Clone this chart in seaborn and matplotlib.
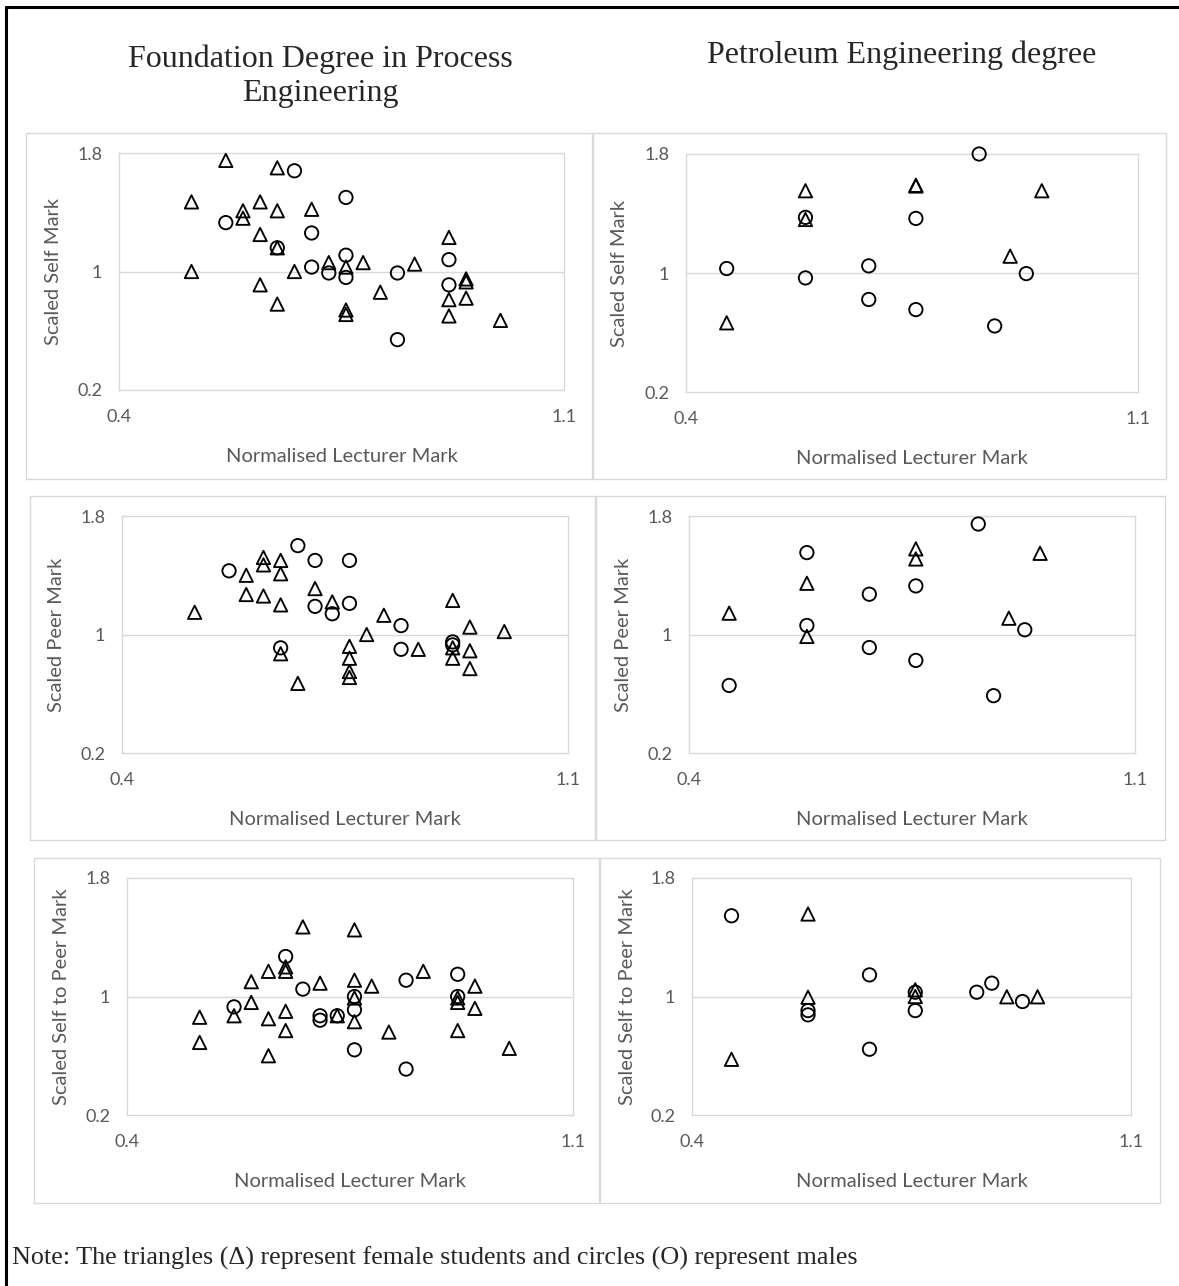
import numpy as np
import pandas as pd
import seaborn as sns
import matplotlib.pyplot as plt
from matplotlib.patches import Rectangle
from matplotlib.lines import Line2D

# --- dados ---
# Foundation Degree: autoavaliacao (Scaled Self Mark)
fd_self_f_x = [0.514, 0.514, 0.568, 0.595, 0.595, 0.622, 0.622, 0.622, 0.649, 0.649, 0.649, 0.649, 0.676, 0.703,
               0.730, 0.757, 0.757, 0.757, 0.784, 0.811, 0.865, 0.919, 0.919, 0.919, 0.946, 0.946, 0.946, 1.0]
fd_self_f_y = [1.47, 1.0, 1.75, 1.41, 1.36, 1.47, 1.25, 0.91, 1.70, 1.41, 1.16, 0.78, 1.0, 1.42,
               1.06, 1.03, 0.74, 0.71, 1.06, 0.86, 1.05, 1.23, 0.81, 0.70, 0.95, 0.93, 0.82, 0.67]
fd_self_m_x = [0.568, 0.649, 0.676, 0.703, 0.703, 0.730, 0.757, 0.757, 0.757, 0.838, 0.838, 0.919, 0.919]
fd_self_m_y = [1.33, 1.16, 1.68, 1.26, 1.03, 0.99, 1.50, 1.11, 0.96, 0.99, 0.54, 1.08, 0.91]

# Petroleum: autoavaliacao
pe_self_f_x = [0.463, 0.585, 0.585, 0.756, 0.756, 0.902, 0.951]
pe_self_f_y = [0.665, 1.553, 1.36, 1.59, 1.585, 1.113, 1.553]
pe_self_m_x = [0.463, 0.585, 0.585, 0.683, 0.683, 0.756, 0.756, 0.854, 0.878, 0.927]
pe_self_m_y = [1.03, 1.374, 0.967, 1.048, 0.822, 1.367, 0.754, 1.8, 0.644, 0.996]

# Foundation Degree: avaliacao dos pares (Scaled Peer Mark)
fd_peer_f_x = [0.514, 0.595, 0.595, 0.622, 0.622, 0.622, 0.649, 0.649, 0.649, 0.649, 0.676, 0.703, 0.730, 0.757,
               0.757, 0.757, 0.757, 0.784, 0.811, 0.865, 0.919, 0.919, 0.919, 0.946, 0.946, 0.946, 1.0]
fd_peer_f_y = [1.15, 1.40, 1.27, 1.52, 1.47, 1.26, 1.50, 1.41, 1.20, 0.87, 0.67, 1.31, 1.22, 0.92,
               0.84, 0.75, 0.71, 1.0, 1.13, 0.90, 1.23, 0.91, 0.84, 1.05, 0.89, 0.77, 1.02]
fd_peer_m_x = [0.568, 0.649, 0.676, 0.703, 0.703, 0.730, 0.757, 0.757, 0.838, 0.838, 0.919, 0.919]
fd_peer_m_y = [1.43, 0.91, 1.60, 1.50, 1.19, 1.14, 1.50, 1.21, 1.06, 0.90, 0.95, 0.93]

# Petroleum: avaliacao dos pares
pe_peer_f_x = [0.463, 0.585, 0.585, 0.756, 0.756, 0.902, 0.951]
pe_peer_f_y = [1.144, 1.346, 0.987, 1.578, 1.51, 1.11, 1.548]
pe_peer_m_x = [0.463, 0.585, 0.585, 0.683, 0.683, 0.756, 0.756, 0.854, 0.878, 0.927]
pe_peer_m_y = [0.656, 1.553, 1.061, 1.272, 0.912, 1.328, 0.825, 1.746, 0.587, 1.032]

# Foundation Degree: auto / pares (Scaled Self to Peer Mark)
fd_ratio_f_x = [0.514, 0.514, 0.568, 0.595, 0.595, 0.622, 0.622, 0.622, 0.649, 0.649, 0.649, 0.649, 0.676, 0.703,
                0.730, 0.757, 0.757, 0.757, 0.757, 0.784, 0.811, 0.865, 0.919, 0.919, 0.919, 0.946, 0.946, 1.0]
fd_ratio_f_y = [0.86, 0.69, 0.87, 1.10, 0.96, 1.17, 0.85, 0.60, 1.20, 1.17, 0.90, 0.77, 1.47, 1.09,
                0.87, 1.45, 1.11, 0.99, 0.83, 1.07, 0.76, 1.17, 0.99, 0.96, 0.77, 1.07, 0.92, 0.65]
fd_ratio_m_x = [0.568, 0.649, 0.676, 0.703, 0.703, 0.730, 0.757, 0.757, 0.757, 0.838, 0.838, 0.919, 0.919]
fd_ratio_m_y = [0.93, 1.27, 1.05, 0.87, 0.84, 0.87, 1.0, 0.91, 0.64, 1.11, 0.51, 1.15, 1.0]

# Petroleum: auto / pares
pe_ratio_f_x = [0.463, 0.585, 0.585, 0.756, 0.756, 0.902, 0.951]
pe_ratio_f_y = [0.576, 1.557, 0.995, 1.045, 1.0, 0.998, 0.998]
pe_ratio_m_x = [0.463, 0.585, 0.585, 0.683, 0.683, 0.756, 0.756, 0.854, 0.878, 0.927]
pe_ratio_m_y = [1.545, 0.905, 0.876, 1.146, 0.644, 1.029, 0.905, 1.029, 1.09, 0.966]

x_ticks = [0.4, 1.1]
y_ticks = [0.2, 1, 1.8]
y_tick_labels = ["0.2", "1", "1.8"]

titulo_fd = "Foundation Degree in Process\nEngineering"
titulo_pe = "Petroleum Engineering degree"
nota = "Note: The triangles (\u0394) represent female students and circles (O) represent males"

# --- layout ---
W, H = 1179, 1286
sns.set_style("white")
plt.rcParams['font.family'] = ['Lato', 'DejaVu Sans']
cinza = "#595959"
borda = "#d9d9d9"


def caixa(x0, y0, x1, y1):
    # converte pixels (origem no topo) para coordenadas da figura
    return [x0 / W, 1 - y1 / H, (x1 - x0) / W, (y1 - y0) / H]


def painel(ax, fx, fy, mx, my, ylabel):
    df = pd.DataFrame({"lect": fx + mx, "val": fy + my,
                       "sexo": ["F"] * len(fx) + ["M"] * len(mx)})
    ax.axhline(1, color=borda, lw=1.0, zorder=0)
    sns.scatterplot(data=df, x="lect", y="val", style="sexo", style_order=["F", "M"],
                    markers={"F": "^", "M": "o"}, s=92, facecolor="none", edgecolor="black",
                    linewidth=1.35, legend=False, clip_on=False, zorder=3, ax=ax)
    ax.set_xlim(0.4, 1.1)
    ax.set_ylim(0.2, 1.8)
    ax.set_xticks(x_ticks)
    ax.set_xticklabels([str(v) for v in x_ticks])
    ax.set_yticks(y_ticks)
    ax.set_yticklabels(y_tick_labels)
    ax.tick_params(length=0, labelsize=13, labelcolor=cinza)
    ax.tick_params(axis="x", pad=14)
    ax.tick_params(axis="y", pad=12)
    for sp in ax.spines.values():
        sp.set_color(borda)
        sp.set_linewidth(1.0)
    ax.set_xlabel("Normalised Lecturer Mark", fontsize=14.5, color=cinza)
    ax.set_ylabel(ylabel, fontsize=14.5, color=cinza)
    ax.xaxis.set_label_coords(0.5, -0.245)
    ax.yaxis.set_label_coords(-0.128, 0.5)


fig = plt.figure(figsize=(W / 100, H / 100), dpi=100)

# molduras cinza de cada grafico
molduras = [(26, 133, 592, 479), (593, 133, 1166, 479),
            (30, 496, 595, 840), (596, 496, 1165, 840),
            (34, 858, 599, 1203), (600, 858, 1160, 1203)]
for m in molduras:
    b = caixa(*m)
    fig.add_artist(Rectangle((b[0], b[1]), b[2], b[3], transform=fig.transFigure,
                             fill=False, ec=borda, lw=1.0))

ax1 = fig.add_axes(caixa(119, 153, 564, 390))
ax2 = fig.add_axes(caixa(686, 154, 1138, 392))
ax3 = fig.add_axes(caixa(122, 516, 568, 753))
ax4 = fig.add_axes(caixa(689, 516, 1135, 753))
ax5 = fig.add_axes(caixa(127, 878, 573, 1115))
ax6 = fig.add_axes(caixa(692, 878, 1131, 1115))

painel(ax1, fd_self_f_x, fd_self_f_y, fd_self_m_x, fd_self_m_y, "Scaled Self Mark")
painel(ax2, pe_self_f_x, pe_self_f_y, pe_self_m_x, pe_self_m_y, "Scaled Self Mark")
painel(ax3, fd_peer_f_x, fd_peer_f_y, fd_peer_m_x, fd_peer_m_y, "Scaled Peer Mark")
painel(ax4, pe_peer_f_x, pe_peer_f_y, pe_peer_m_x, pe_peer_m_y, "Scaled Peer Mark")
painel(ax5, fd_ratio_f_x, fd_ratio_f_y, fd_ratio_m_x, fd_ratio_m_y, "Scaled Self to Peer Mark")
painel(ax6, pe_ratio_f_x, pe_ratio_f_y, pe_ratio_m_x, pe_ratio_m_y, "Scaled Self to Peer Mark")

# titulos das colunas e nota (Times)
serif = ['Liberation Serif', 'DejaVu Serif']
fig.text(320 / W, 1 - 76 / H, titulo_fd, ha="center", va="center", fontsize=23,
         family=serif, linespacing=1.22)
fig.text(902 / W, 1 - 55 / H, titulo_pe, ha="center", va="center", fontsize=23, family=serif)
fig.text(12 / W, 1 - 1258 / H, nota, ha="left", va="center", fontsize=18.8, family=serif)

# moldura preta externa
fig.add_artist(Line2D([6 / W, 6 / W], [0, 1 - 7 / H], transform=fig.transFigure, color="black", lw=2.2))
fig.add_artist(Line2D([6 / W, 1], [1 - 7 / H, 1 - 7 / H], transform=fig.transFigure, color="black", lw=2.2))

fig.savefig("out.png", dpi=100)
